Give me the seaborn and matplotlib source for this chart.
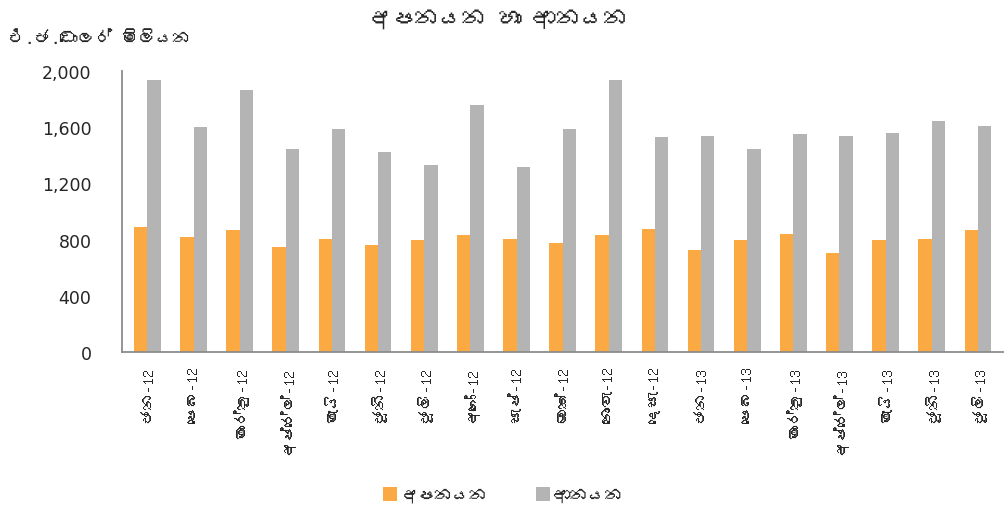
import pandas as pd
import matplotlib
matplotlib.use("Agg")
import matplotlib.pyplot as plt
from matplotlib import font_manager
from matplotlib.ft2font import FT2Font
import seaborn as sns

# data (USD million)
months = ["ජන-12", "පෙබ-12", "මාර්තු-12", "අප්රේල්-12", "මැයි-12", "ජූනි-12",
          "ජූලි-12", "අගෝ-12", "සැප්-12", "ඔක්-12", "නොවැ-12", "දෙසැ-12",
          "ජන-13", "පෙබ-13", "මාර්තු-13", "අප්රේල්-13", "මැයි-13", "ජූනි-13", "ජූලි-13"]
exports = [890, 818, 868, 747, 804, 762, 797, 833, 804, 776, 833, 875,
           726, 797, 840, 705, 797, 804, 868]
imports = [1936, 1601, 1865, 1445, 1587, 1423, 1331, 1758, 1317, 1587, 1936, 1530,
           1537, 1445, 1552, 1537, 1559, 1644, 1609]

export_name = "අපනයන"
import_name = "ආනයන"
title = "අපනයන හා ආනයන"
unit_label = "එ.ජ.ඩොලර් මිලියන"


# look for any installed font that has Sinhala glyphs
def find_sinhala_font():
    for f in font_manager.fontManager.ttflist:
        try:
            cmap = FT2Font(f.fname).get_charmap()
        except Exception:
            continue
        if ord("අ") in cmap:
            return f.name
    return None


sns.set_theme(style="white")
sinhala = find_sinhala_font()
families = ([sinhala] if sinhala else []) + ["DejaVu Sans"]
plt.rcParams["font.family"] = families

df = pd.DataFrame({
    "month": months * 2,
    "value": exports + imports,
    "series": [export_name] * len(months) + [import_name] * len(months),
})

fig = plt.figure(figsize=(10.06, 5.06), dpi=100)
ax = fig.add_axes([0.1213, 0.3024, 0.876, 0.5555])

sns.barplot(
    data=df, x="month", y="value", hue="series",
    hue_order=[export_name, import_name],
    palette=["#FBA942", "#B4B4B4"], saturation=1,
    width=0.58, linewidth=0, ax=ax, legend=True,
)

ax.set_ylim(0, 2000)
ax.set_yticks([0, 400, 800, 1200, 1600, 2000])
ax.set_yticklabels([f"{v:,}" for v in [0, 400, 800, 1200, 1600, 2000]],
                   fontsize=12.5, family="DejaVu Sans")
ax.set_xlim(-0.55, len(months) - 0.45)
ax.tick_params(axis="y", pad=22, length=0)
ax.tick_params(axis="x", rotation=90, labelsize=11.5, pad=10, length=0)
ax.set_xlabel("")
ax.set_ylabel("")

for s in ["top", "right"]:
    ax.spines[s].set_visible(False)
for s in ["left", "bottom"]:
    ax.spines[s].set_color("#8C8C8C")
    ax.spines[s].set_linewidth(1.3)

fig.text(0.495, 0.962, title, ha="center", va="center", fontsize=17, fontweight="bold")
fig.text(0.008, 0.925, unit_label, ha="left", va="center", fontsize=12.5)

ax.legend_.remove()
fig.legend(
    handles=ax.patches[:1] + ax.patches[len(months):len(months) + 1],
    labels=[export_name, import_name],
    loc="center", bbox_to_anchor=(0.5, 0.02), ncol=2, frameon=False,
    fontsize=12.5, handlelength=0.8, handleheight=0.8, handletextpad=0.2,
    columnspacing=2.8,
)

fig.savefig("out.png", dpi=100)
